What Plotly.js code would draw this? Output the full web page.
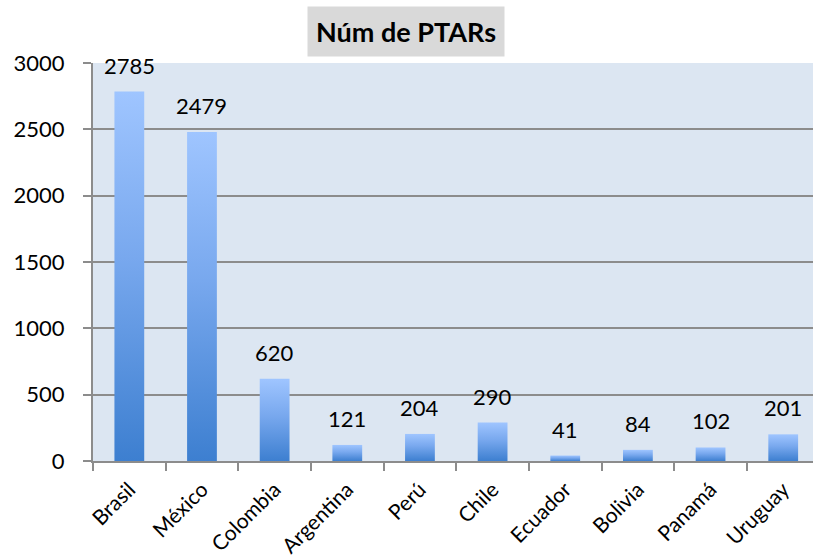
<!DOCTYPE html>
<html>
<head>
<meta charset="utf-8">
<script src="https://cdn.plot.ly/plotly-3.0.1.min.js"></script>
<style>html,body{margin:0;padding:0;background:#fff;}#chart{width:813px;height:560px;}</style>
</head>
<body>
<div id="chart"></div>
<script>
const countries = ["Brasil", "México", "Colombia", "Argentina", "Perú", "Chile", "Ecuador", "Bolivia", "Panamá", "Uruguay"];
const ptars = [2785, 2479, 620, 121, 204, 290, 41, 84, 102, 201];
const yTicks = [0, 500, 1000, 1500, 2000, 2500, 3000];
const chartTitle = "Núm de PTARs";

const FONT = "Lato, 'Noto Sans', sans-serif";

const trace = {
  type: "bar",
  x: countries,
  y: ptars,
  width: 0.41,
  marker: {color: "#5b93e0", line: {width: 0}},
  hoverinfo: "skip"
};

const annotations = countries.map((c, i) => ({
  x: c, y: ptars[i], xref: "x", yref: "y",
  text: String(ptars[i]), showarrow: false,
  yanchor: "bottom", yshift: 11,
  font: {family: FONT, size: 22, color: "#000"}
}));
annotations.push({
  xref: "paper", yref: "paper", x: 0.435, y: 1.08, xanchor: "center", yanchor: "middle",
  text: "<b>" + chartTitle + "</b>", showarrow: false,
  bgcolor: "#d9d9d9", borderpad: 8,
  font: {family: FONT, size: 27, color: "#000"}
});

const layout = {
  width: 813, height: 560,
  margin: {l: 93, r: 0, t: 63, b: 99},
  paper_bgcolor: "#ffffff",
  plot_bgcolor: "#dce6f2",
  showlegend: false,
  xaxis: {
    type: "category",
    range: [-0.5, 9.41],
    tickangle: -45,
    ticks: "outside", ticklen: 8, tickcolor: "#8c8c8c", tickwidth: 2,
    showline: true, linecolor: "#8c8c8c", linewidth: 2,
    showgrid: false,
    tickson: "boundaries",
    ticklabelstandoff: 6,
    tickfont: {family: FONT, size: 21, color: "#000"}
  },
  yaxis: {
    range: [0, 3000],
    tickvals: yTicks,
    ticktext: yTicks.map(String),
    ticks: "outside", ticklen: 8, tickcolor: "#8c8c8c", tickwidth: 2,
    showline: true, linecolor: "#8c8c8c", linewidth: 2,
    showgrid: true, gridcolor: "#8c8c8c", gridwidth: 2,
    zeroline: false,
    ticklabelstandoff: 14,
    tickfont: {family: FONT, size: 22, color: "#000"}
  },
  annotations: annotations
};

Plotly.newPlot("chart", [trace], layout, {displayModeBar: false, staticPlot: true}).then(() => {
  const svg = document.querySelector("#chart .main-svg");
  const ns = "http://www.w3.org/2000/svg";
  let defs = svg.querySelector("defs");
  if (!defs) { defs = document.createElementNS(ns, "defs"); svg.insertBefore(defs, svg.firstChild); }
  const grad = document.createElementNS(ns, "linearGradient");
  grad.setAttribute("id", "barGrad");
  grad.setAttribute("x1", "0"); grad.setAttribute("y1", "0");
  grad.setAttribute("x2", "0"); grad.setAttribute("y2", "1");
  [["0", "#9fc5ff"], ["0.45", "#78a8ee"], ["1", "#3d7fd0"]].forEach(([o, c]) => {
    const s = document.createElementNS(ns, "stop");
    s.setAttribute("offset", o); s.setAttribute("stop-color", c);
    grad.appendChild(s);
  });
  defs.appendChild(grad);
  document.querySelectorAll("#chart .bars .point path").forEach(p => {
    p.style.fill = "url(#barGrad)";
  });
});
</script>
</body>
</html>
